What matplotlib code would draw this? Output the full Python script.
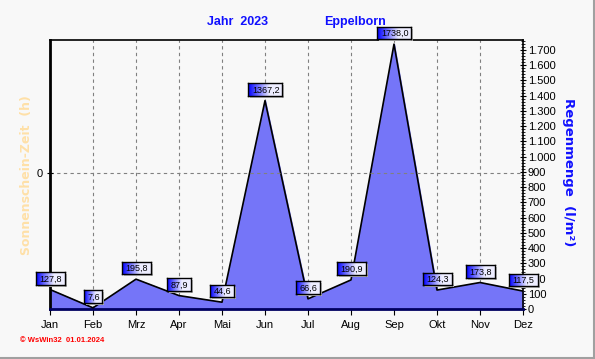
import numpy as np
import matplotlib
matplotlib.use("Agg")
import matplotlib.pyplot as plt
from matplotlib.ticker import MultipleLocator, FuncFormatter

# Daten (Regenmenge pro Monat, l/m²)
monate = ["Jan", "Feb", "Mrz", "Apr", "Mai", "Jun", "Jul", "Aug", "Sep", "Okt", "Nov", "Dez"]
regen = [127.8, 7.6, 195.8, 87.9, 44.6, 1367.2, 66.6, 190.9, 1738.0, 124.3, 173.8, 117.5]
beschriftung = ["127,8", "7,6", "195,8", "87,9", "44,6", "1367,2", "66,6", "190,9", "1738,0", "124,3", "173,8", "117,5"]

plt.rcParams["font.family"] = ["Liberation Sans", "DejaVu Sans"]

W, H = 595, 359
fig = plt.figure(figsize=(W / 100, H / 100), dpi=100)
fig.patch.set_facecolor("#f8f8f8")

# Plotbereich
ax = fig.add_axes([50 / W, 1 - 309 / H, (523 - 50) / W, (309 - 40) / H])
ax.set_facecolor("#f8f8f8")
x = np.arange(len(monate))

# linke Achse (Sonnenschein) - nur die 0
ax2 = ax.twinx()
ax2.set_ylim(-1, 0.978)
ax2.set_yticks([0])
ax2.set_yticklabels(["0"], fontsize=8)
ax2.yaxis.tick_left()
ax2.tick_params(axis="y", length=4, direction="inout")
for s in ax2.spines.values():
    s.set_visible(False)
ax2.axhline(0, linestyle=(0, (3, 3)), color="#808080", lw=0.8, zorder=1)

ax.fill_between(x, regen, 0, color="#7575f8", zorder=2)
ax.plot(x, regen, color="black", lw=1.2, zorder=3)

ax.set_xlim(0, 11)
ax.set_ylim(0, 1765)
ax.set_xticks(x)
ax.set_xticklabels(monate, fontsize=8)
ax.xaxis.set_minor_locator(MultipleLocator(0.25))
ax.tick_params(axis="x", which="major", length=4, direction="out", pad=4)
ax.tick_params(axis="x", which="minor", length=3, direction="in")

# rechte Achse für Regen
ax.yaxis.tick_right()
ax.yaxis.set_major_locator(MultipleLocator(100))
ax.yaxis.set_minor_locator(MultipleLocator(20))
ax.yaxis.set_major_formatter(FuncFormatter(lambda v, p: f"{int(v):,}".replace(",", ".")))
ax.tick_params(axis="y", which="major", length=5, direction="inout", labelsize=8, pad=1)
ax.tick_params(axis="y", which="minor", length=3, direction="inout")

ax.grid(axis="x", linestyle=(0, (3, 3)), color="#808080", lw=0.8, zorder=1)

ax.spines["left"].set_linewidth(2)
ax.spines["bottom"].set_linewidth(2)
ax.spines["bottom"].set_color("#000060")
ax.spines["top"].set_linewidth(1.2)
ax.spines["right"].set_linewidth(1.2)

fig.text(569 / W, 1 - 172 / H, "Regenmenge  (l/m²)", rotation=-90, ha="center", va="center",
         color="#1010ff", fontsize=9.5, fontweight="bold", family="DejaVu Sans")
fig.text(27 / W, 1 - 175 / H, "Sonnenschein-Zeit  (h)", rotation=90, ha="center", va="center",
         color="#ffe0a8", fontsize=9, fontweight="bold", family="DejaVu Sans")

# Titel
fig.text(238 / W, 1 - 22 / H, "Jahr  2023", color="#1010ff", fontsize=9,
         fontweight="bold", ha="center", va="center")
fig.text(355 / W, 1 - 22 / H, "Eppelborn", color="#1010ff", fontsize=9,
         fontweight="bold", ha="center", va="center")
fig.text(20 / W, 1 - 340 / H, "© WsWin32  01.01.2024", color="red", fontsize=5.5,
         fontweight="bold", ha="left", va="center")

# Wertekästchen mit Farbverlauf
fig.canvas.draw()
grad = np.linspace(0, 1, 64)
grad = np.clip(grad * 1.6, 0, 1)
img = np.zeros((1, 64, 3))
img[0, :, 0] = 0.93 * grad
img[0, :, 1] = 0.93 * grad
img[0, :, 2] = 1.0
for xi, val, lab in zip(x, regen, beschriftung):
    px, py = ax.transData.transform((xi, val))
    bw = 3 + 5.2 * len(lab)
    bh = 12.5
    left = px - bw / 2
    bottom = py + 5
    sh = fig.add_axes([(left + 2) / W, (bottom - 2) / H, bw / W, bh / H])
    sh.set_facecolor("#b8b8b8")
    sh.set_xticks([]); sh.set_yticks([])
    for s in sh.spines.values():
        s.set_visible(False)
    bx = fig.add_axes([left / W, bottom / H, bw / W, bh / H])
    bx.imshow(img, aspect="auto", extent=(0, 1, 0, 1))
    bx.set_xlim(0, 1); bx.set_ylim(0, 1)
    bx.set_xticks([]); bx.set_yticks([])
    for s in bx.spines.values():
        s.set_linewidth(1)
    bx.text(0.52, 0.45, lab, ha="center", va="center", fontsize=6.5, color="black")

# grauer Rahmen rechts/unten
fig.add_artist(plt.Line2D([0, 1], [1.5 / H, 1.5 / H], color="#a0a0a0", lw=1.5, transform=fig.transFigure))
fig.add_artist(plt.Line2D([1 - 1.5 / W, 1 - 1.5 / W], [0, 1], color="#a0a0a0", lw=1.5, transform=fig.transFigure))

fig.savefig("out.png", dpi=100, facecolor=fig.get_facecolor())
